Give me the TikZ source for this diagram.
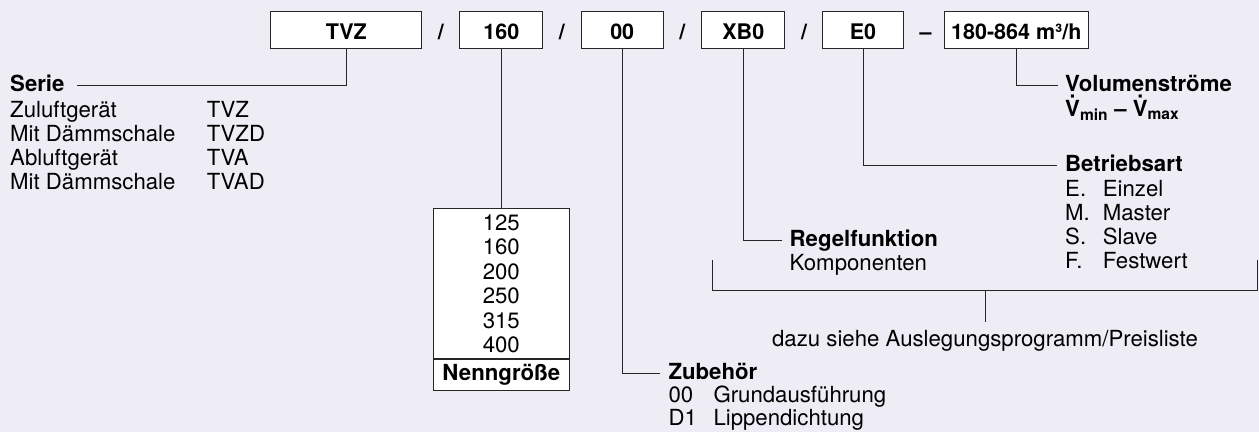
\documentclass[tikz,border=0pt]{standalone}
\usepackage{fontspec}
\setmainfont{TeX Gyre Heros}
\usetikzlibrary{positioning}
\definecolor{bgpaper}{RGB}{238,237,246}
\newcommand\Vpunkt{{\accent"02D9 V}}

\begin{document}
\begin{tikzpicture}[x=1pt,y=-1pt,
    every node/.style={font=\fontsize{22.2}{24.2}\selectfont},
    codebox/.style={draw=black!85,fill=white,line width=1pt,inner sep=0pt,minimum height=36.6pt,
      text height=18pt,text depth=0pt,font=\fontsize{21.5}{24}\selectfont\bfseries},
    sepsign/.style={inner sep=0pt,text height=18pt,text depth=0pt,font=\fontsize{21.5}{24}\selectfont\bfseries},
    head/.style={anchor=base west,inner sep=0pt,text height=12pt,text depth=0pt,
      font=\fontsize{22.2}{24.2}\selectfont\bfseries},
    liste/.style={anchor=base west,inner sep=0pt},
    lead/.style={draw=black!85,line width=1pt}]
    \fill[bgpaper] (0,0) rectangle (1259,432);
    \useasboundingbox (0,0) rectangle (1259,432);
    % type code
    \node[codebox,minimum width=150.7pt] (tvz) at (346.3,30) {TVZ};
    \node[codebox,minimum width=82.7pt] (nw) at (501.3,30) {160};
    \node[codebox,minimum width=82.3pt] (zub) at (622.2,30) {00};
    \node[codebox,minimum width=83.3pt] (reg) at (743.3,30) {XB0};
    \node[codebox,minimum width=80.6pt] (bart) at (863,30) {E0};
    \node[codebox,minimum width=144pt] (vol) at (1016.3,30) {180-864 m³/h};
    \node[sepsign] (s1) at (440.8,30) {/};
    \node[sepsign] (s2) at (561.8,30) {/};
    \node[sepsign] (s3) at (682.4,30) {/};
    \node[sepsign] (s4) at (804,30) {/};
    \node[sepsign] (s5) at (925.5,30) {--};
    % Serie
    \node[head] (serie) at (10,91.7) {Serie};
    \node[liste] (serieliste) at (10,117.3) {\begin{tabular}[t]{@{}p{196.7pt}@{}l@{}}
        Zuluftgerät & TVZ\\ Mit Dämmschale & TVZD\\ Abluftgerät & TVA\\ Mit Dämmschale & TVAD
      \end{tabular}};
    \draw[lead] (tvz.south) |- ([xshift=12pt]serie.east);
    % Nenngroesse
    \node[draw=black!85,fill=white,line width=1pt,minimum width=135.7pt,minimum height=150pt,
      anchor=north,align=center,inner sep=0pt,font=\fontsize{22.2}{24.5}\selectfont] (groessen) at (501.3,208.3)
      {125\\160\\200\\250\\315\\400};
    \node[draw=black!85,fill=white,line width=1pt,minimum width=135.7pt,minimum height=30.7pt,
      anchor=north,inner sep=0pt,font=\fontsize{22.2}{24.2}\selectfont\bfseries] (nenn) at (groessen.south) {Nenngröße};
    \draw[line width=2pt,black!85] (nenn.north west) -- (nenn.north east);
    \draw[lead] (nw.south) -- (groessen.north);
    % Zubehoer
    \node[head] (zubehoer) at (668.3,379.5) {Zubehör};
    \node[liste,font=\fontsize{22.2}{23.3}\selectfont] (zubliste) at (668.3,402.3) {\begin{tabular}[t]{@{}p{45pt}@{}l@{}}
        00 & Grundausführung\\ D1 & Lippendichtung
      \end{tabular}};
    \draw[lead] (zub.south) |- ([xshift=-8pt]zubehoer.west);
    % Regelfunktion
    \node[head] (regel) at (789.5,246.7) {Regelfunktion};
    \node[liste] (komp) at (789.5,270) {Komponenten};
    \draw[lead] (reg.south) |- ([xshift=-8pt]regel.west);
    % Betriebsart
    \node[head] (betrieb) at (1065,171.7) {Betriebsart};
    \node[liste] (bliste) at (1065,196) {\begin{tabular}[t]{@{}p{37.7pt}@{}l@{}}
        E. & Einzel\\ M. & Master\\ S. & Slave\\ F. & Festwert
      \end{tabular}};
    \draw[lead] (bart.south) |- ([xshift=-8pt]betrieb.west);
    % Volumenstroeme
    \node[head] (volstrom) at (1065,91.5) {Volumenströme};
    \node[liste,font=\fontsize{22.2}{24.2}\selectfont\bfseries] (vminmax) at (1065,116)
      {\Vpunkt\textsubscript{min} -- \Vpunkt\textsubscript{max}};
    \draw[lead] (vol.south) |- ([xshift=-7pt]volstrom.west);
    % bracket
    \coordinate (kl) at (712.9,260);
    \coordinate (kr) at (1257.3,260);
    \coordinate (km) at (985,290.7);
    \draw[lead] (kl) |- (km) -| (kr);
    \node[anchor=base,inner sep=8pt] (dazu) at (985,346) {dazu siehe Auslegungsprogramm/Preisliste};
    \draw[lead] (km) -- (dazu.north);
\end{tikzpicture}
\end{document}
